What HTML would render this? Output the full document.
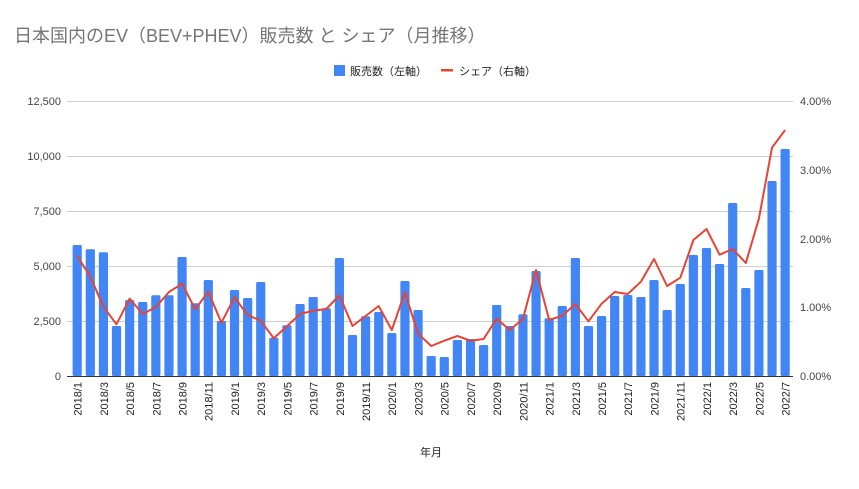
<!DOCTYPE html>
<html><head><meta charset="utf-8"><style>
body{margin:0;background:#fff;}
svg text{font-family:"Liberation Sans","Noto Sans CJK JP",sans-serif;}
</style></head><body>
<svg id="c" width="859" height="484" xmlns="http://www.w3.org/2000/svg">
<rect width="859" height="484" fill="#fff"/>
<text x="14" y="42" font-size="18" fill="#757575">日本国内のEV（BEV+PHEV）販売数 と シェア（月推移）</text>
<rect x="334" y="65" width="11" height="11" fill="#4285f4"/>
<text x="350" y="75" font-size="11" fill="#222">販売数（左軸）</text>
<rect x="441" y="69" width="12" height="2.5" fill="#ea4335"/>
<text x="459" y="75" font-size="11" fill="#222">シェア（右軸）</text>
<g stroke="#d0d0d0" stroke-width="1">
<line x1="67" x2="793" y1="101.5" y2="101.5"/><line x1="67" x2="793" y1="156.5" y2="156.5"/>
<line x1="67" x2="793" y1="211.5" y2="211.5"/><line x1="67" x2="793" y1="266.5" y2="266.5"/>
<line x1="67" x2="793" y1="321.5" y2="321.5"/>
</g>
<g font-size="11" fill="#444" text-anchor="end">
<text x="61" y="105">12,500</text><text x="61" y="160">10,000</text><text x="61" y="215">7,500</text>
<text x="61" y="270">5,000</text><text x="61" y="325">2,500</text><text x="61" y="380">0</text>
</g>
<g font-size="11" fill="#444" text-anchor="start">
<text x="800" y="105">4.00%</text><text x="800" y="174">3.00%</text><text x="800" y="243">2.00%</text>
<text x="800" y="311">1.00%</text><text x="800" y="380">0.00%</text>
</g>
<g id="bars" fill="#4285f4"></g>
<line x1="67" x2="793" y1="376.5" y2="376.5" stroke="#333" stroke-width="1"/>
<polyline id="ln" fill="none" stroke="#ea4335" stroke-width="2" stroke-linejoin="round"/>
<g font-size="11" fill="#222" text-anchor="end">
<text transform="translate(81.6,382) rotate(-90)">2018/1</text>
<text transform="translate(107.8,382) rotate(-90)">2018/3</text>
<text transform="translate(134.0,382) rotate(-90)">2018/5</text>
<text transform="translate(160.3,382) rotate(-90)">2018/7</text>
<text transform="translate(186.5,382) rotate(-90)">2018/9</text>
<text transform="translate(212.7,382) rotate(-90)">2018/11</text>
<text transform="translate(238.9,382) rotate(-90)">2019/1</text>
<text transform="translate(265.1,382) rotate(-90)">2019/3</text>
<text transform="translate(291.4,382) rotate(-90)">2019/5</text>
<text transform="translate(317.6,382) rotate(-90)">2019/7</text>
<text transform="translate(343.8,382) rotate(-90)">2019/9</text>
<text transform="translate(370.0,382) rotate(-90)">2019/11</text>
<text transform="translate(396.2,382) rotate(-90)">2020/1</text>
<text transform="translate(422.5,382) rotate(-90)">2020/3</text>
<text transform="translate(448.7,382) rotate(-90)">2020/5</text>
<text transform="translate(474.9,382) rotate(-90)">2020/7</text>
<text transform="translate(501.1,382) rotate(-90)">2020/9</text>
<text transform="translate(527.3,382) rotate(-90)">2020/11</text>
<text transform="translate(553.6,382) rotate(-90)">2021/1</text>
<text transform="translate(579.8,382) rotate(-90)">2021/3</text>
<text transform="translate(606.0,382) rotate(-90)">2021/5</text>
<text transform="translate(632.2,382) rotate(-90)">2021/7</text>
<text transform="translate(658.4,382) rotate(-90)">2021/9</text>
<text transform="translate(684.7,382) rotate(-90)">2021/11</text>
<text transform="translate(710.9,382) rotate(-90)">2022/1</text>
<text transform="translate(737.1,382) rotate(-90)">2022/3</text>
<text transform="translate(763.3,382) rotate(-90)">2022/5</text>
<text transform="translate(789.5,382) rotate(-90)">2022/7</text>
</g>
<text x="431" y="456" font-size="11" fill="#222" text-anchor="middle">年月</text>
</svg>
<script>
var b=[245,249.3,252.3,326,300,302,295.3,295.3,257,303.3,280,321,290,298,282,337.7,325.3,304,297,308.3,258,335,316.3,312,333,281,310,356,357,340,339,345,305,326,314.3,271,318.3,306,258,326,316,296,295,297,280,310,284,255,248,264,203,288,270,181,149];
var l=[256,276.7,306.7,324.3,298.7,314,307,292,283.7,309.3,291.7,322.7,297.3,315,320.7,338.3,326.3,314,310.7,309,295.3,326,316,306,330,292.3,333.7,346,340.7,336,340.7,339,318.7,330,319,270,320,315.7,304,321.3,303.7,292,294,281.7,259,286,277.7,240,229,254.7,249,263,218.7,147.7,130];
var g=document.getElementById('bars'),ns="http://www.w3.org/2000/svg",pts=[];
for(var i=0;i<55;i++){var cx=77.2+13.11*i;var r=document.createElementNS(ns,'rect');
r.setAttribute('x',cx-4.6);r.setAttribute('y',b[i]);r.setAttribute('width',9.2);r.setAttribute('height',376-b[i]);r.setAttribute('rx',1.5);g.appendChild(r);
pts.push(cx.toFixed(1)+','+l[i]);}
document.getElementById('ln').setAttribute('points',pts.join(' '));
</script>
</body></html>
